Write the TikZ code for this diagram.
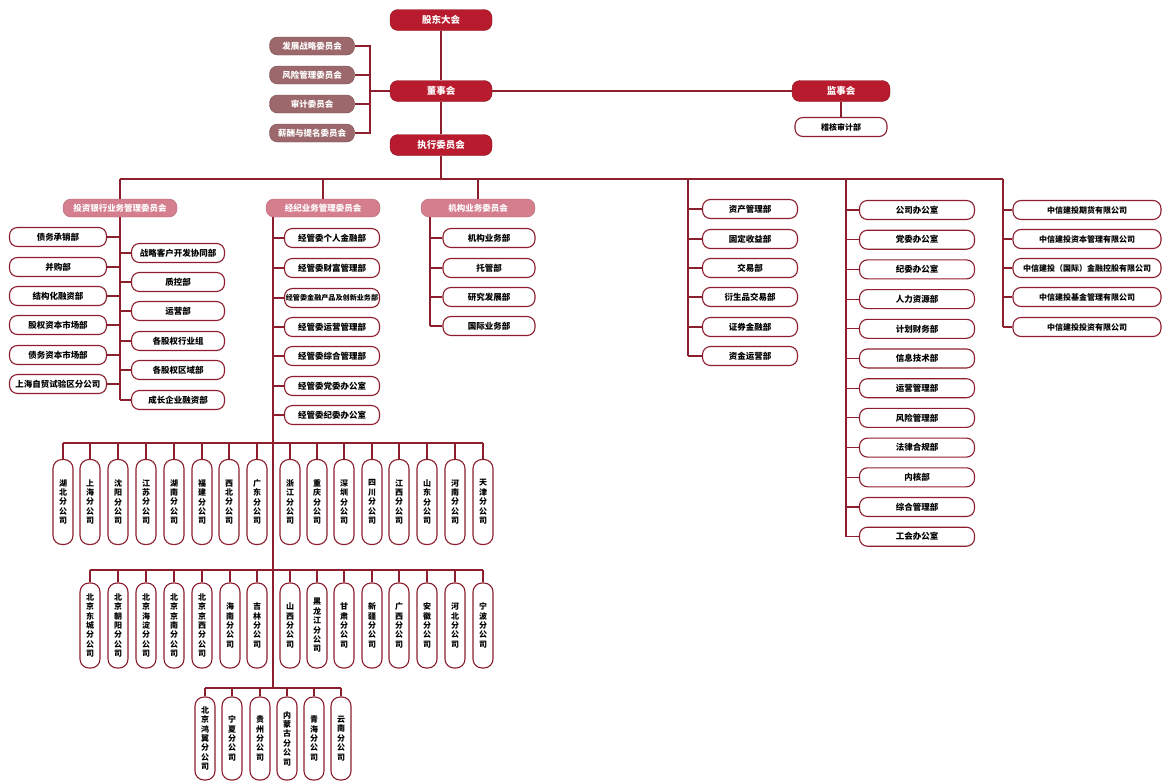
\documentclass[tikz,border=0pt]{standalone}
\usepackage{fontspec}
\setmainfont{Noto Sans CJK SC}
\usetikzlibrary{positioning}
\definecolor{cxred}{HTML}{B81A2E}
\definecolor{cxline}{HTML}{8C1E2E}
\definecolor{cxmauve}{HTML}{9C686B}
\definecolor{cxpink}{HTML}{D47E8E}
\def\vtextend{vtextend}
\def\vtext#1{\vbox{\baselineskip=9.4pt\expandafter\vtextloop#1\vtextend}}
\def\vtextloop#1{\ifx#1\vtextend\else\hbox to 9pt{\hss#1\hss}\expandafter\vtextloop\fi}
\newcommand\narrowtext{\fontsize{7.1}{7.5}\selectfont}

\begin{document}
\begin{tikzpicture}[x=1pt,y=-1pt,
    line/.style={draw=cxline, line width=1.1pt},
    pill/.style={rounded corners=8pt, minimum height=19pt, inner sep=1pt, font=\fontsize{8.5}{9}\selectfont\bfseries},
    topbox/.style={pill, fill=cxred, draw=cxred!75!black, text=white, minimum width=102pt, minimum height=21pt, font=\fontsize{9.5}{10}\selectfont\bfseries},
    combox/.style={pill, fill=cxmauve, draw=cxmauve!75!black, text=white, minimum width=85pt, minimum height=18pt},
    headbox/.style={pill, fill=cxpink, draw=cxpink!85!black, text=white, minimum width=114pt, minimum height=18pt},
    dept/.style={pill, draw=cxline, fill=white, line width=1.1pt},
    vpill/.style={draw=cxline, fill=white, line width=1.1pt, rounded corners=9pt, minimum width=20pt, minimum height=85pt, inner sep=0pt, font=\fontsize{8}{8.5}\selectfont\bfseries}]
    %%%%% START %%%%%
    \useasboundingbox (0,0) rectangle (1163,782);

    % board level
    \node[topbox] (gm) at (441,20) {股东大会};
    \node[topbox] (bd) at (441,91) {董事会};
    \node[topbox] (ec) at (441,145) {执行委员会};
    \node[topbox, minimum width=98pt] (sv) at (841,91) {监事会};
    \node[dept, minimum width=92pt, font=\fontsize{8}{9}\selectfont\bfseries] (au) at (841,127) {稽核审计部};

    \foreach \t [count=\i] in {发展战略委员会,风险管理委员会,审计委员会,薪酬与提名委员会}
        \node[combox] (cm\i) at (312,{17+29*\i}) {\t};

    \coordinate (bdj) at (370,91);
    \foreach \i in {1,...,4}
        \draw[line] (cm\i.east) -| (bdj);
    \draw[line] (bdj) -- (bd.west);
    \draw[line] (gm) -- (bd);
    \draw[line] (bd) -- (ec);
    \draw[line] (bd) -- (sv);
    \draw[line] (sv) -- (au);

    % committees under the executive
    \coordinate (ecj) at (441,179);
    \coordinate (sp4) at (688,179);
    \coordinate (sp5) at (846,179);
    \coordinate (sp6) at (1003,179);
    \node[headbox] (ib) at (120,208) {投资银行业务管理委员会};
    \node[headbox] (bk) at (323,208) {经纪业务管理委员会};
    \node[headbox] (it) at (478,208) {机构业务委员会};

    \draw[line] (ec) -- (ecj);
    \draw[line] (ecj -| ib) -- (sp6);
    \draw[line] (ecj -| ib) -- (ib);
    \draw[line] (ecj -| bk) -- (bk);
    \draw[line] (ecj -| it) -- (it);

    % investment banking
    \foreach \t/\y [count=\i] in {债务承销部/237, 并购部/267, 结构化融资部/296, 股权资本市场部/325, 债务资本市场部/355, 上海自贸试验区分公司/384}
        \node[dept, minimum width=97pt] (ibl\i) at (58,\y) {\t};
    \foreach \t/\y [count=\i] in {战略客户开发协同部/253, 质控部/282, 运营部/311, 各股权行业组/341, 各股权区域部/370, 成长企业融资部/400}
        \node[dept, minimum width=93pt] (ibr\i) at (178,\y) {\t};
    \draw[line] (ib) -- (ib |- ibr6);
    \foreach \i in {1,...,6} {
        \draw[line] (ibl\i.east) -- (ibl\i.east -| ib);
        \draw[line] (ibr\i.west) -- (ibr\i.west -| ib);
    }

    % brokerage
    \coordinate (bks) at (273,208);
    \foreach \t/\y [count=\i] in {经管委个人金融部/238, 经管委财富管理部/268, \narrowtext 经管委金融产品及创新业务部/298, 经管委运营管理部/327, 经管委综合管理部/356, 经管委党委办公室/386, 经管委纪委办公室/415}
        \node[dept, minimum width=95pt] (bki\i) at (332,\y) {\t};
    \foreach \i in {1,...,7}
        \draw[line] (bki\i.west) -- (bki\i.west -| bks);

    % institutional
    \coordinate (its) at (430,208);
    \foreach \t/\y [count=\i] in {机构业务部/238, 托管部/268, 研究发展部/297, 国际业务部/326}
        \node[dept, minimum width=92pt] (iti\i) at (489,\y) {\t};
    \draw[line] (it.south -| its) -- (its |- iti4);
    \foreach \i in {1,...,4}
        \draw[line] (iti\i.west) -- (iti\i.west -| its);

    % trading departments
    \foreach \t/\y [count=\i] in {资产管理部/209, 固定收益部/239, 交易部/268, 衍生品交易部/297, 证券金融部/327, 资金运营部/356}
        \node[dept, minimum width=95pt] (td\i) at (750,\y) {\t};
    \draw[line] (sp4) -- (sp4 |- td6);
    \foreach \i in {1,...,6}
        \draw[line] (td\i.west) -- (td\i.west -| sp4);

    % head office
    \foreach \t [count=\i] in {公司办公室, 党委办公室, 纪委办公室, 人力资源部, 计划财务部, 信息技术部, 运营管理部, 风险管理部, 法律合规部, 内核部, 综合管理部, 工会办公室}
        \node[dept, minimum width=115pt] (ho\i) at (917,{180.3+29.7*\i}) {\t};
    \draw[line] (sp5) -- (sp5 |- ho12);
    \foreach \i in {1,...,12}
        \draw[line] (ho\i.west) -- (ho\i.west -| sp5);

    % subsidiaries
    \foreach \t/\y [count=\i] in {中信建投期货有限公司/210, 中信建投资本管理有限公司/239, 中信建投（国际）金融控股有限公司/268, 中信建投基金管理有限公司/297, 中信建投投资有限公司/327}
        \node[dept, minimum width=148pt, font=\fontsize{8}{9}\selectfont\bfseries] (sb\i) at (1087,\y) {\t};
    \draw[line] (sp6) -- (sp6 |- sb5);
    \foreach \i in {1,...,5}
        \draw[line] (sb\i.west) -- (sb\i.west -| sp6);

    % branch companies
    \coordinate (rowa) at (273,443);
    \coordinate (rowb) at (273,570);
    \coordinate (rowc) at (273,688);
    \draw[line] (bk.south -| bks) -- (rowc);

    \foreach \x/\t [count=\i] in {63/湖北分公司, 90/上海分公司, 118/沈阳分公司, 146/江苏分公司, 174/湖南分公司, 202/福建分公司, 229/西北分公司, 257/广东分公司, 290/浙江分公司, 317/重庆分公司, 344/深圳分公司, 372/四川分公司, 399/江西分公司, 427/山东分公司, 455/河南分公司, 483/天津分公司}
        \node[vpill] (ra\i) at (\x,502) {\vtext{\t}};
    \draw[line] (ra1.north |- rowa) -- (ra16.north |- rowa);
    \foreach \i in {1,...,16}
        \draw[line] (ra\i.north) -- (ra\i.north |- rowa);

    \foreach \x/\t [count=\i] in {90/北京东城分公司, 118/北京朝阳分公司, 146/北京海淀分公司, 174/北京京南分公司, 202/北京京西分公司, 230/海南分公司, 257/吉林分公司, 290/山西分公司, 317/黑龙江分公司, 344/甘肃分公司, 372/新疆分公司, 399/广西分公司, 427/安徽分公司, 455/河北分公司, 483/宁波分公司}
        \node[vpill] (rb\i) at (\x,625.5) {\vtext{\t}};
    \draw[line] (rb1.north |- rowb) -- (rb15.north |- rowb);
    \foreach \i in {1,...,15}
        \draw[line] (rb\i.north) -- (rb\i.north |- rowb);

    \foreach \x/\t [count=\i] in {205/北京鸿翼分公司, 232/宁夏分公司, 260/贵州分公司, 287/内蒙古分公司, 314/青海分公司, 341/云南分公司}
        \node[vpill, minimum height=83pt] (rc\i) at (\x,738.5) {\vtext{\t}};
    \draw[line] (rc1.north |- rowc) -- (rc6.north |- rowc);
    \foreach \i in {1,...,6}
        \draw[line] (rc\i.north) -- (rc\i.north |- rowc);

    %%%%% END %%%%%
\end{tikzpicture}
\end{document}
